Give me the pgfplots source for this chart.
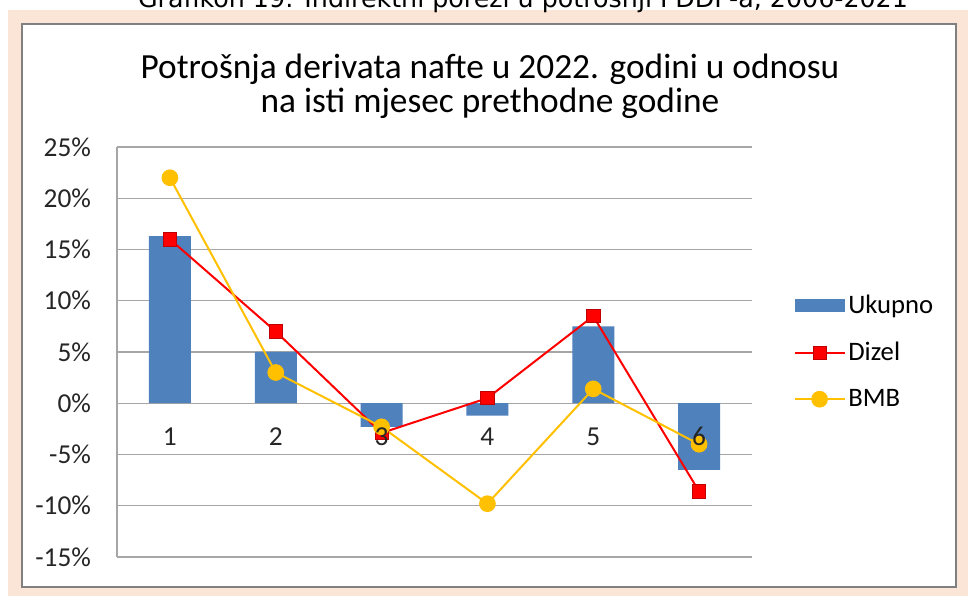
\documentclass[border=0pt]{standalone}
\usepackage{fontspec}
\setmainfont{Carlito}
\newfontfamily\capfont{DejaVu Sans}
\usepackage{pgfplots}
\pgfplotsset{compat=1.18}
\pgfplotsset{
  mylinelegend/.style={legend image code/.code={%
    \draw[mark repeat=2, mark phase=2, ##1] plot coordinates {(0pt,0pt) (18.75pt,0pt) (37.5pt,0pt)};}},
  mybarlegend/.style={legend image code/.code={%
    \fill[ukupno] (0pt,-5pt) rectangle (37.5pt,5pt);}},
}

\definecolor{peach}{HTML}{FBE5D6}
\definecolor{ukupno}{HTML}{4F81BD}
\definecolor{dizel}{HTML}{FF0000}
\definecolor{dizeldark}{HTML}{C00000}
\definecolor{bmb}{HTML}{FFC000}
\definecolor{gridgray}{HTML}{A6A6A6}

\begin{document}
\begin{tikzpicture}[x=0.75pt,y=0.75pt]
\useasboundingbox (0,0) rectangle (968,596);
\clip (0,0) rectangle (968,596);
\fill[peach] (8,0) rectangle (968,586);
\fill[white] (22,9) rectangle (956,572);
\draw[gray, line width=1.5pt] (22,9) rectangle (956,572);
\node[anchor=base, font=\capfont\fontsize{19}{22}\selectfont] at (523,588)
  {Grafikon 19: Indirektni porezi u potrošnji PDDP-a, 2006-2021};
\node[anchor=base, font=\fontsize{26.5}{31}\selectfont] at (490,517)
  {Potrošnja derivata nafte u 2022. godini u odnosu};
\node[anchor=base, font=\fontsize{26.5}{31}\selectfont] at (490,483)
  {na isti mjesec prethodne godine};

\begin{axis}[
  at={(87.75pt,29.25pt)}, anchor=south west,
  scale only axis, width=476.25pt, height=307.5pt,
  xmin=0.5, xmax=6.5, ymin=-15, ymax=25,
  axis x line=middle, axis y line=left,
  axis line style={-, draw=gridgray, line width=1.1pt},
  xtick={1,...,6}, xticklabels={},
  ytick={-15,-10,...,25},
  yticklabels={-15\%,-10\%,-5\%,0\%,5\%,10\%,15\%,20\%,25\%},
  major tick length=0pt,
  ymajorgrids, grid style={draw=gridgray, line width=1.1pt},
  tick label style={font=\fontsize{20.5}{24}\selectfont, text=black!85},
  yticklabel style={anchor=east, xshift=-16pt},
  legend style={at={(1,0.5)}, anchor=west, xshift=28pt, draw=none, fill=none,
    font=\fontsize{20}{24}\selectfont, row sep=16pt, cells={anchor=west}},
  clip=false,
  % category labels drawn after the plots so they sit above the markers
  after end axis/.append code={
    \begin{scope}[every node/.style={anchor=base, yshift=-31.5pt, text=black!85,
        font=\fontsize{20.5}{24}\selectfont}]
    \node at (axis cs:1,0) {1};
    \node at (axis cs:2,0) {2};
    \node at (axis cs:3,0) {3};
    \node at (axis cs:4,0) {4};
    \node at (axis cs:5,0) {5};
    \node at (axis cs:6,0) {6};
    \end{scope}
  },
]
\addplot[ybar, bar width=31.5pt, fill=ukupno, draw=none, mybarlegend]
  coordinates {(1,16.3) (2,5.0) (3,-2.3) (4,-1.2) (5,7.5) (6,-6.5)};
\addlegendentry{Ukupno}
\addplot[dizel, line width=1.5pt, mark=square*, mark size=5pt,
  mark options={fill=dizel, draw=dizeldark, line width=0.6pt}, mylinelegend]
  coordinates {(1,16.0) (2,7.0) (3,-2.9) (4,0.5) (5,8.5) (6,-8.6)};
\addlegendentry{Dizel}
\addplot[bmb, line width=1.5pt, mark=*, mark size=5.5pt,
  mark options={fill=bmb, draw=bmb}, mylinelegend]
  coordinates {(1,22.0) (2,3.0) (3,-2.3) (4,-9.8) (5,1.4) (6,-4.0)};
\addlegendentry{BMB}
\end{axis}
\end{tikzpicture}
\end{document}
